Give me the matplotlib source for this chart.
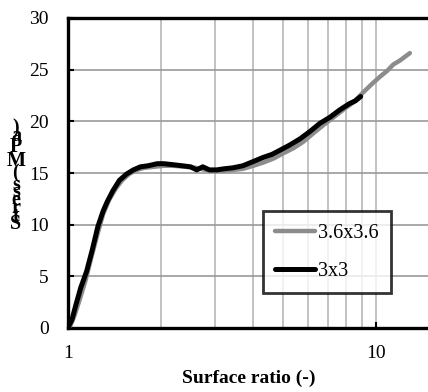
import numpy as np
import matplotlib
matplotlib.use("Agg")
import matplotlib.pyplot as plt

# ---------------- data ----------------
x_36 = [1.0, 1.02, 1.05, 1.09, 1.14, 1.19, 1.25, 1.30, 1.36, 1.43, 1.5, 1.58,
        1.67, 1.77, 1.9, 2.05, 2.2, 2.4, 2.6, 2.8, 3.0, 3.2, 3.45, 3.7, 4.0,
        4.3, 4.65, 5.0, 5.4, 5.8, 6.3, 6.8, 7.3, 7.9, 8.5, 9.1, 9.7, 10.3,
        10.9, 11.4, 12.0, 12.5, 12.9]
y_36 = [0, 0.3, 1.2, 2.7, 4.6, 6.8, 9.2, 11.0, 12.4, 13.5, 14.3, 14.9,
        15.3, 15.5, 15.6, 15.7, 15.7, 15.6, 15.5, 15.3, 15.2, 15.2, 15.3, 15.4,
        15.7, 16.0, 16.4, 16.9, 17.4, 18.0, 18.9, 19.7, 20.4, 21.2, 21.9,
        22.8, 23.6, 24.3, 24.9, 25.5, 25.9, 26.3, 26.6]

x_3 = [1.0, 1.01, 1.03, 1.06, 1.10, 1.15, 1.20, 1.25, 1.30, 1.34, 1.40, 1.47,
       1.55, 1.63, 1.72, 1.82, 1.95, 2.05, 2.2, 2.35, 2.5, 2.62, 2.74, 2.88,
       3.04, 3.2, 3.43, 3.7, 3.99, 4.3, 4.6, 4.88, 5.25, 5.67, 6.1, 6.58,
       7.1, 7.63, 8.2, 8.6, 8.93]
y_3 = [0, 0.3, 0.8, 2.2, 3.9, 5.5, 7.6, 9.8, 11.3, 12.2, 13.3, 14.3,
       14.9, 15.3, 15.6, 15.7, 15.9, 15.9, 15.8, 15.7, 15.6, 15.3, 15.6, 15.3,
       15.3, 15.4, 15.5, 15.7, 16.1, 16.5, 16.8, 17.2, 17.7, 18.3, 19.0, 19.8,
       20.4, 21.1, 21.7, 22.0, 22.4]

labels = ["3.6x3.6", "3x3"]
ylabel = "Stress (MPa)"
xlabel = "Surface ratio (-)"

# ---------------- figure ----------------
plt.rcParams["font.family"] = ["Liberation Serif", "DejaVu Serif"]

fig = plt.figure(figsize=(4.28, 3.92), dpi=100)
ax = fig.add_axes([68/428, 1-328/392, 362/428, 310/392])

ax.plot(x_36, y_36, color="#8c8c8c", lw=3.2, label=labels[0],
        solid_capstyle="round", zorder=3)
ax.plot(x_3, y_3, color="black", lw=3.6, label=labels[1],
        solid_capstyle="round", zorder=4)

ax.set_xscale("log")
ax.set_xlim(1, 15)
ax.set_ylim(0, 30)
ax.set_yticks(np.arange(0, 31, 5))
ax.set_xticks([1, 10])
ax.set_xticklabels(["1", "10"])
ax.set_xticks([2, 3, 4, 5, 6, 7, 8, 9], minor=True)
ax.tick_params(axis="x", which="minor", length=0)
ax.tick_params(axis="both", which="major", direction="in", length=4,
               width=1.5, labelsize=14)
ax.tick_params(axis="y", pad=14)
ax.tick_params(axis="x", pad=12)

ax.grid(True, axis="y", color="#999999", lw=1.2, zorder=1)
ax.grid(True, axis="x", which="both", color="#b8b8b8", lw=1.2, zorder=1)
ax.set_axisbelow(True)

for s in ax.spines.values():
    s.set_linewidth(2.4)
ax.spines["right"].set_visible(False)

ax.set_xlabel(xlabel, fontsize=14, fontweight="bold", labelpad=6)

leg = ax.legend(loc="lower left", bbox_to_anchor=(0.539, 0.113),
                fontsize=14.5, frameon=True, fancybox=False,
                handlelength=2.0, handletextpad=0.15, labelspacing=0.95,
                borderpad=0.6, borderaxespad=0)
leg.get_frame().set_edgecolor("black")
leg.get_frame().set_linewidth(2.0)
leg.set_zorder(6)

# y label: glyphs stacked upright, spaced by their advance widths
renderer = fig.canvas.get_renderer()
ypos = 229.0
for ch in ylabel:
    t = fig.text(16/428, 0, ch if ch != " " else "n", fontsize=14.5,
                 fontweight="bold", ha="center", va="center")
    w = t.get_window_extent(renderer).width * 0.93
    if ch == " ":
        t.remove()
        w = w * 0.45
    else:
        t.set_y(1 - (ypos - w/2)/392)
    ypos -= w

fig.savefig("out.png", dpi=100)
